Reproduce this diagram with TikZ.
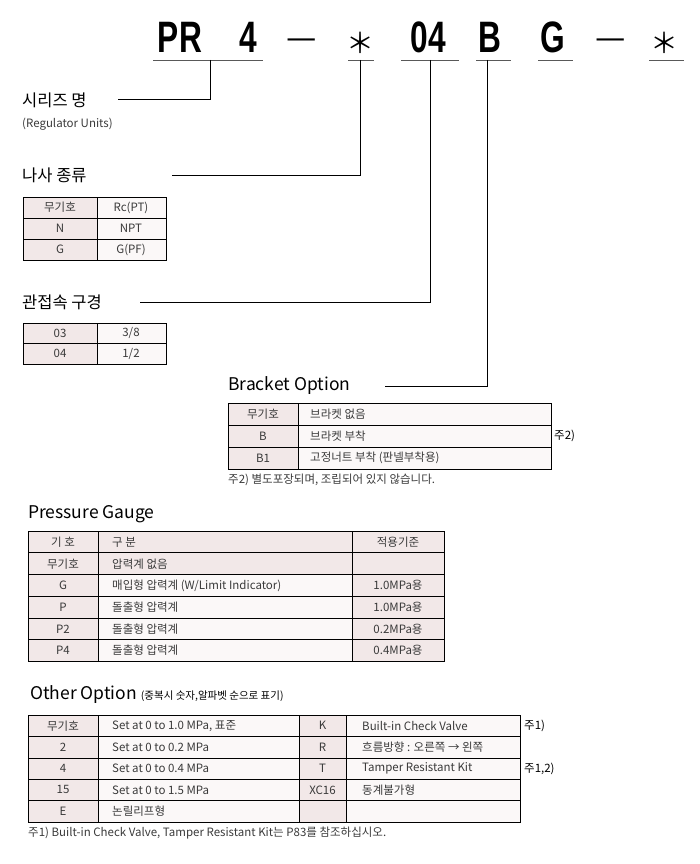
\documentclass[tikz,border=0pt]{standalone}
\usepackage{fontspec}
\setmainfont{Noto Sans CJK KR}
\newfontfamily\codefont{Liberation Sans}
\definecolor{pinkc}{HTML}{F2E8E8}
\definecolor{lightc}{HTML}{FBF8F8}
\definecolor{txt}{HTML}{3A3A3A}
\begin{document}
\begin{tikzpicture}[x=1pt,y=-1pt,
  code/.style={font=\codefont\bfseries\fontsize{44}{44}\selectfont,inner sep=0,anchor=base},
  dashsym/.style={font=\fontsize{34}{34}\selectfont,inner sep=0,anchor=base},
  star/.style={font=\fontsize{28}{28}\selectfont,inner sep=0,anchor=base},
  uline/.style={line width=0.9pt,gray!70!black},
  lead/.style={line width=0.9pt,black},
  title/.style={font=\fontsize{16.5}{16.5}\selectfont,anchor=west,inner sep=0},
  small/.style={font=\fontsize{11.5}{12}\selectfont,text=txt,inner sep=0},
  pk/.style={fill=pinkc,draw=black,line width=0.6pt},
  lt/.style={fill=lightc,draw=black,line width=0.6pt}]
\useasboundingbox (0,0) rectangle (700,864);
% code
\node[code] (cPR) at (180,53) {\scalebox{0.72}[1]{PR}};
\node[code] (c4) at (248,53) {\scalebox{0.72}[1]{4}};
\node[dashsym] (d1) at (302,50) {—};
\node[star] (cs1) at (360,54) {＊};
\node[code] (c04) at (428,53) {\scalebox{0.72}[1]{04}};
\node[code] (cB) at (490,53) {\scalebox{0.72}[1]{B}};
\node[code] (cG) at (553,53) {\scalebox{0.72}[1]{G}};
\node[dashsym] (d2) at (611,50) {—};
\node[star] (cs2) at (664,54) {＊};
\draw[uline] (153,60)--(263,60) (348,60)--(374,60) (401,60)--(459,60) (476,60)--(511,60) (538,60)--(573,60) (649,60)--(684,60);
\coordinate (u1) at (210,60); \coordinate (u2) at (360,60); \coordinate (u3) at (430,60); \coordinate (u4) at (487,60);
% labels
\node[title] (t1) at (22,100) {시리즈 명};
\node[small,anchor=west] (t1b) at (22,124) {(Regulator Units)};
\draw[lead] (u1) |- (118,99);
\node[title] (t2) at (22,175) {나사 종류};
\draw[lead] (u2) |- (172,175);
\node[title] (t3) at (22,302) {관접속 구경};
\draw[lead] (u3) |- (140,302);
\node[title,font=\fontsize{17.5}{17.5}\selectfont] (t4) at (228,386) {Bracket Option};
\draw[lead] (u4) |- (385,386);
% thread table
\foreach \i/\a/\b in {0/무기호/Rc(PT),1/N/NPT,2/G/G(PF)}{
  \draw[pk] (23,197+21*\i) rectangle (97,218+21*\i);
  \draw[lt] (97,197+21*\i) rectangle (166,218+21*\i);
  \node[small] at (60,207.5+21*\i) {\a};
  \node[small] at (131,207.5+21*\i) {\b};}
% size table
\foreach \i/\a/\b in {0/03/3\slash 8,1/04/1\slash 2}{
  \draw[pk] (23,323+20.5*\i) rectangle (97,343.5+20.5*\i);
  \draw[lt] (97,323+20.5*\i) rectangle (166,343.5+20.5*\i);
  \node[small] at (60,333+20.5*\i) {\a};
  \node[small] at (131,333+20.5*\i) {\b};}
% bracket table
\foreach \i/\a/\b in {0/무기호/브라켓 없음,1/B/브라켓 부착,2/B1/고정너트 부착 (판넬부착용)}{
  \draw[pk] (228,403+22*\i) rectangle (298,425+22*\i);
  \draw[lt] (298,403+22*\i) rectangle (551,425+22*\i);
  \node[small] at (263,414+22*\i) {\a};
  \node[small,anchor=west] at (310,414+22*\i) {\b};}
\node[small,anchor=west,text=black] (n2) at (554,436) {주2)};
\node[small,anchor=west] (n2b) at (228,480) {주2) 별도포장되며, 조립되어 있지 않습니다.};
% pressure gauge
\node[title,font=\fontsize{17.5}{17.5}\selectfont] (t5) at (28,514) {Pressure Gauge};
\foreach \i/\a/\b/\vv/\f in {0/기 호/구 분/적용기준/pinkc,1/무기호/압력계 없음//pinkc,2/G/{매입형 압력계 (W\slash Limit Indicator)}/1.0MPa용/lightc,3/P/돌출형 압력계/1.0MPa용/lightc,4/P2/돌출형 압력계/0.2MPa용/lightc,5/P4/돌출형 압력계/0.4MPa용/lightc}{
  \draw[pk] (28,531+21.7*\i) rectangle (98,552.7+21.7*\i);
  \draw[lt,fill=\f] (98,531+21.7*\i) rectangle (352,552.7+21.7*\i);
  \draw[pk] (352,531+21.7*\i) rectangle (444,552.7+21.7*\i);
  \node[small] at (63,542+21.7*\i) {\a};
  \node[small,anchor=west] at (112,542+21.7*\i) {\b};
  \node[small] at (398,542+21.7*\i) {\vv};}
% other option
\node[title,font=\fontsize{17.5}{17.5}\selectfont] (t6) at (30,695) {Other Option {\fontsize{10.5}{10.5}\selectfont (중복시 숫자,알파벳 순으로 표기)}};
\foreach \i/\a/\b/\vv/\d in {0/무기호/{Set at 0 to 1.0 MPa, 표준}/K/Built-in Check Valve,1/2/Set at 0 to 0.2 MPa/R/흐름방향 : 오른쪽 → 왼쪽,2/4/Set at 0 to 0.4 MPa/T/Tamper Resistant Kit,3/15/Set at 0 to 1.5 MPa/XC16/동계불가형,4/E/논릴리프형//}{
  \draw[pk] (28,715+21.4*\i) rectangle (98,736.4+21.4*\i);
  \draw[lt] (98,715+21.4*\i) rectangle (299,736.4+21.4*\i);
  \draw[pk] (299,715+21.4*\i) rectangle (346,736.4+21.4*\i);
  \draw[lt] (346,715+21.4*\i) rectangle (520,736.4+21.4*\i);
  \node[small] at (63,725.7+21.4*\i) {\a};
  \node[small,anchor=west] at (112,725.7+21.4*\i) {\b};
  \node[small] at (322.5,725.7+21.4*\i) {\vv};
  \node[small,anchor=west] at (362,725.7+21.4*\i) {\d};}
\node[small,anchor=west,text=black] (n1) at (524,726) {주1)};
\node[small,anchor=west,text=black] (n12) at (524,769) {주1,2)};
\node[small,anchor=west] (n1b) at (28,833) {주1) Built-in Check Valve, Tamper Resistant Kit는 P83를 참조하십시오.};
\end{tikzpicture}
\end{document}
